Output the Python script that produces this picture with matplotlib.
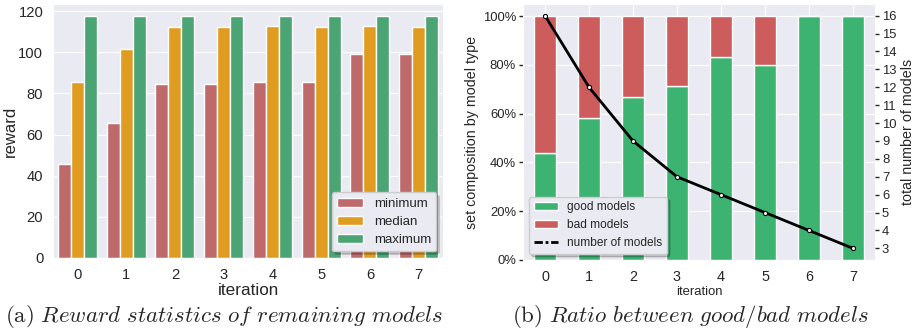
import numpy as np
import pandas as pd
import matplotlib
matplotlib.use('Agg')
import matplotlib.pyplot as plt
from matplotlib.lines import Line2D
from matplotlib.ticker import PercentFormatter
import seaborn as sns

sns.set_style('darkgrid')
plt.rcParams['font.family'] = ['Liberation Sans', 'DejaVu Sans']
plt.rcParams['mathtext.fontset'] = 'cm'

# (a) reward statistics per iteration
iterations = [0, 1, 2, 3, 4, 5, 6, 7]
reward_min = [45.7, 65.7, 84.4, 84.4, 85.4, 85.4, 99.3, 99.3]
reward_median = [85.8, 101.4, 112.2, 112.2, 113.0, 112.2, 113.0, 112.2]
reward_max = [117.6, 117.6, 117.6, 117.6, 117.6, 117.6, 117.6, 117.6]
stat_names = ['minimum', 'median', 'maximum']

# (b) model set composition per iteration
good_models = [7, 7, 6, 5, 5, 4, 4, 3]
bad_models = [9, 5, 3, 2, 1, 1, 0, 0]

n_models = np.array(good_models) + np.array(bad_models)
good_frac = np.array(good_models) / n_models
bad_frac = np.array(bad_models) / n_models

df = pd.DataFrame({
    'iteration': iterations * 3,
    'reward': reward_min + reward_median + reward_max,
    'stat': [s for s in stat_names for _ in iterations],
})

fig = plt.figure(figsize=(9.14, 3.35), dpi=100)
ax1 = fig.add_axes([0.058, 0.2299, 0.4267, 0.758])
ax2 = fig.add_axes([0.5722, 0.2239, 0.3851, 0.7642])

shadow_props = {'color': 'black', 'alpha': 0.18}

# ---- left panel
sns.barplot(data=df, x='iteration', y='reward', hue='stat', ax=ax1,
            palette=['indianred', 'orange', 'mediumseagreen'], saturation=0.75,
            edgecolor='white', linewidth=1, errorbar=None)
ax1.set_xlim(-0.5, 7.5)
ax1.set_yticks([0, 20, 40, 60, 80, 100, 120])
ax1.tick_params(axis='y', labelsize=10.6)
ax1.tick_params(axis='x', labelsize=10.6)
ax1.set_xlabel('iteration', fontsize=12.3, labelpad=1)
ax1.set_ylabel('reward', fontsize=12)
ax1.yaxis.set_label_coords(-0.09, 0.5)
ax1.legend(loc='lower right', fontsize=9.5, title=None, frameon=True,
           shadow=shadow_props, borderpad=0.4, labelspacing=0.45)

# ---- right panel
x = np.arange(len(iterations))
ax2.bar(x, good_frac, width=0.5, color='mediumseagreen', edgecolor='white',
        linewidth=1, label='good models', zorder=2)
ax2.bar(x, bad_frac, width=0.5, bottom=good_frac, color='indianred',
        edgecolor='white', linewidth=1, label='bad models', zorder=2)
ax2.set_xticks(x)
ax2.set_xticklabels([str(i) for i in iterations])
ax2.set_xlim(-0.5, 7.5)
ax2.set_ylim(0, 1.05)
ax2.set_yticks([0, 0.2, 0.4, 0.6, 0.8, 1.0])
ax2.yaxis.set_major_formatter(PercentFormatter(1.0, decimals=0))
ax2.tick_params(axis='y', left=True, length=3, width=1, pad=2,
                color='0.15', labelsize=9.4)
ax2.tick_params(axis='x', labelsize=10.4)
ax2.set_xlabel('iteration', fontsize=9.4, labelpad=2)
ax2.set_ylabel('set composition by model type', fontsize=10.3, labelpad=3)

ax3 = ax2.twinx()
ax3.grid(False)
ax3.plot(x, n_models, color='black', lw=2, marker='o', markersize=3,
         markerfacecolor='white', markeredgecolor='black', markeredgewidth=0.8)
ax3.set_yticks(np.arange(3, 17))
ax3.tick_params(axis='y', right=True, length=3, width=1, pad=2,
                color='0.15', labelsize=9.4)
ax3.set_ylabel('total number of models', fontsize=10.3, labelpad=3)
for s in ax3.spines.values():
    s.set_visible(False)

handles, labels = ax2.get_legend_handles_labels()
handles.append(Line2D([], [], color='black', lw=2, linestyle=(0, (3, 1, 1, 1))))
labels.append('number of models')
ax3.legend(handles, labels, loc='lower left', fontsize=8.6, frameon=True,
           shadow=shadow_props, borderpad=0.4, labelspacing=0.5,
           bbox_to_anchor=(0.0, 0.0))

# ---- captions
fig.text(0.245, 0.055, r'$\mathrm{(a)}\ \mathit{Reward\ statistics\ of\ remaining\ models}$',
         ha='center', va='center', fontsize=16.5)
fig.text(0.755, 0.055, r'$\mathrm{(b)}\ \mathit{Ratio\ between\ good/bad\ models}$',
         ha='center', va='center', fontsize=16.5)

fig.savefig('out.png', dpi=100)
